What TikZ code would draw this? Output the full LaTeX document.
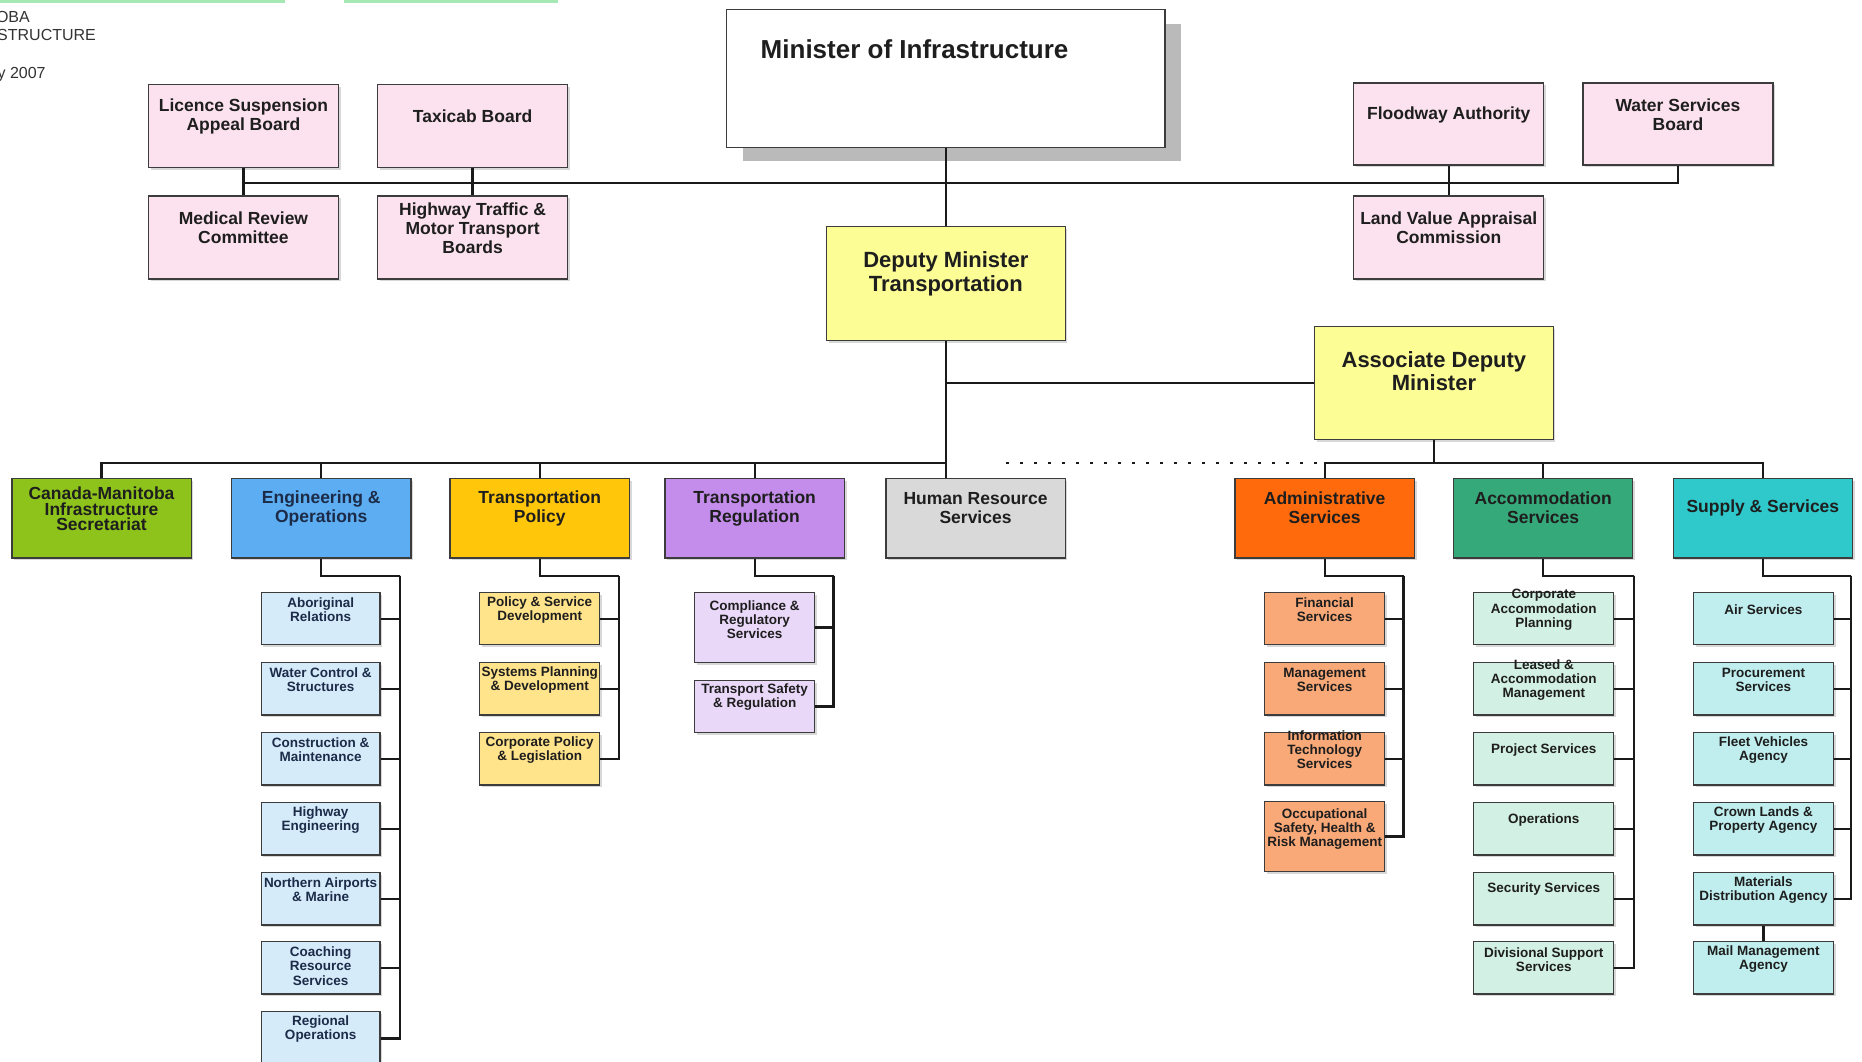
\documentclass[tikz,border=0pt]{standalone}
\usepackage{fontspec}
\setmainfont{Liberation Sans}
\usetikzlibrary{fit,calc,shadows}
\definecolor{boxline}{HTML}{3C3C3C}
\definecolor{connc}{HTML}{1A1A1A}
\definecolor{txt}{HTML}{1E1E1E}
\definecolor{navytxt}{HTML}{1B2B48}
\definecolor{pinkf}{HTML}{FCE2EE}
\definecolor{yelf}{HTML}{FDFD96}
\definecolor{cmsf}{HTML}{8EC31C}
\definecolor{engf}{HTML}{5DADF2}
\definecolor{tpf}{HTML}{FFC60A}
\definecolor{trf}{HTML}{C48DEC}
\definecolor{hrf}{HTML}{D9D9D9}
\definecolor{admf}{HTML}{FF6A0D}
\definecolor{accf}{HTML}{36A97A}
\definecolor{supf}{HTML}{2FC9CB}
\definecolor{engsub}{HTML}{D6EBFA}
\definecolor{tpsub}{HTML}{FFE48C}
\definecolor{trsub}{HTML}{EAD8F9}
\definecolor{admsub}{HTML}{F9A877}
\definecolor{accsub}{HTML}{D2F0E3}
\definecolor{supsub}{HTML}{C0EEEE}
\definecolor{topgreen}{HTML}{A6E8B4}
\definecolor{toptext}{HTML}{333333}
\newcommand{\orgbox}[9]{%
  \node[#1, fit={(#3,#4) (#5,#6)}] (#2) {};
  \node[#8] at ($(#2.north)+(0,#7)$) {#9};
}
\begin{document}
\begin{tikzpicture}[x=1.1875pt,y=-1.1875pt,
  box/.style={draw=boxline, line width=1.3pt, inner sep=0pt,
    drop shadow={shadow xshift=2.2pt, shadow yshift=-2.2pt, fill=black!25, opacity=0.6}},
  pinkbox/.style={box, fill=pinkf},
  yelbox/.style={box, fill=yelf},
  minbox/.style={draw=boxline, line width=1.3pt, inner sep=0pt, fill=white,
    drop shadow={shadow xshift=16.5pt, shadow yshift=-14pt, fill=black!27, opacity=1}},
  cmsbox/.style={box, fill=cmsf}, engbox/.style={box, fill=engf},
  tpbox/.style={box, fill=tpf}, trbox/.style={box, fill=trf},
  hrbox/.style={box, fill=hrf}, admbox/.style={box, fill=admf},
  accbox/.style={box, fill=accf}, supbox/.style={box, fill=supf},
  engs/.style={box, fill=engsub}, tps/.style={box, fill=tpsub},
  trs/.style={box, fill=trsub}, adms/.style={box, fill=admsub},
  accs/.style={box, fill=accsub}, sups/.style={box, fill=supsub},
  lbl/.style={align=center, inner sep=0pt, text=txt},
  subl/.style={lbl, font=\bfseries\fontsize{13.5}{14.2}\selectfont},
  engl/.style={subl, text=navytxt},
  midl/.style={lbl, font=\bfseries\fontsize{17.5}{19}\selectfont},
  cmsl/.style={lbl, font=\bfseries\fontsize{17.5}{15.8}\selectfont},
  bigl/.style={lbl, font=\bfseries\fontsize{22}{23.7}\selectfont},
  conn/.style={draw=connc, line width=2.3pt},
  dotline/.style={draw=connc, line width=2.6pt, dash pattern=on 2.8pt off 11.2pt},
  toplbl/.style={anchor=base west, inner sep=0pt, text=toptext, font=\fontsize{16}{18}\selectfont}
]
\useasboundingbox (0,0) rectangle (1568,894);
\clip (0,0) rectangle (1568,894);
\fill[white] (0,0) rectangle (1568,894);
\fill[topgreen] (0,0) rectangle (240,2.2);
\fill[topgreen] (290,0) rectangle (470,2.2);

\node[toplbl] (t1) at (-3.5,19.3) {OBA};
\node[toplbl] (t2) at (-2.5,34.3) {STRUCTURE};
\node[toplbl] (t3) at (-2.2,65.8) {y 2007};

% top level
\node[minbox, fit={(612,8) (981,124)}] (min) {};
\node[anchor=west, inner sep=0pt, text=txt, font=\bfseries\fontsize{26}{28}\selectfont] (mintxt) at ($(min.north west)+(29,34)$) {Minister of Infrastructure};

\orgbox{pinkbox}{lic}{125}{71}{285}{141}{28}{midl}{Licence Suspension\\Appeal Board}
\orgbox{pinkbox}{taxi}{318}{71}{478}{141}{27.5}{midl}{Taxicab Board}
\orgbox{pinkbox}{med}{125}{165}{285}{235}{27.5}{midl}{Medical Review\\Committee}
\orgbox{pinkbox}{hwy}{318}{165}{478}{235}{27.5}{midl}{Highway Traffic \&\\Motor Transport\\Boards}
\orgbox{pinkbox}{flood}{1140}{70}{1300}{139}{27.5}{midl}{Floodway Authority}
\orgbox{pinkbox}{water}{1333}{70}{1493}{139}{27.5}{midl}{Water Services\\Board}
\orgbox{pinkbox}{land}{1140}{165}{1300}{235}{27.5}{midl}{Land Value Appraisal\\Commission}

\orgbox{yelbox}{dep}{696}{191}{897}{287}{40}{bigl}{Deputy Minister\\Transportation}
\orgbox{yelbox}{adm}{1107}{275}{1308}{370}{38}{bigl}{Associate Deputy\\Minister}

% level 2
\orgbox{cmsbox}{cms}{10}{403}{161}{470}{26}{cmsl}{Canada-Manitoba\\Infrastructure\\Secretariat}
\orgbox{engbox}{eng}{195}{403}{346}{470}{25.5}{midl,text=navytxt}{Engineering \&\\Operations}
\orgbox{tpbox}{tp}{379}{403}{530}{470}{25.5}{midl}{Transportation\\Policy}
\orgbox{trbox}{tr}{560}{403}{711}{470}{25.5}{midl}{Transportation\\Regulation}
\orgbox{hrbox}{hr}{746}{403}{897}{470}{25.5}{midl}{Human Resource\\Services}
\orgbox{admbox}{ads}{1040}{403}{1191}{470}{25.5}{midl}{Administrative\\Services}
\orgbox{accbox}{acc}{1224}{403}{1375}{470}{25.5}{midl}{Accommodation\\Services}
\orgbox{supbox}{sup}{1409}{403}{1560}{470}{25.5}{midl}{Supply \& Services}

% engineering column
\orgbox{engs}{e1}{220}{499}{320}{543}{15}{engl}{Aboriginal\\Relations}
\orgbox{engs}{e2}{220}{558}{320}{602}{15}{engl}{Water Control \&\\Structures}
\orgbox{engs}{e3}{220}{617}{320}{661}{15}{engl}{Construction \&\\Maintenance}
\orgbox{engs}{e4}{220}{676}{320}{720}{15}{engl}{Highway\\Engineering}
\orgbox{engs}{e5}{220}{735}{320}{779}{15}{engl}{Northern Airports\\\& Marine}
\orgbox{engs}{e6}{220}{793}{320}{837}{21}{engl}{Coaching\\Resource\\Services}
\orgbox{engs}{e7}{220}{852}{320}{897}{15}{engl}{Regional\\Operations}

% transportation policy column
\orgbox{tps}{p1}{404}{499}{505}{543}{15}{subl}{Policy \& Service\\Development}
\orgbox{tps}{p2}{404}{558}{505}{602}{15}{subl}{Systems Planning\\\& Development}
\orgbox{tps}{p3}{404}{617}{505}{661}{15}{subl}{Corporate Policy\\\& Legislation}

% transportation regulation column
\orgbox{trs}{r1}{585}{499}{686}{558}{23.5}{subl}{Compliance \&\\Regulatory\\Services}
\orgbox{trs}{r2}{585}{573}{686}{617}{14.5}{subl}{Transport Safety\\\& Regulation}

% administrative column
\orgbox{adms}{a1}{1065}{499}{1166}{543}{15}{subl}{Financial\\Services}
\orgbox{adms}{a2}{1065}{558}{1166}{602}{15}{subl}{Management\\Services}
\orgbox{adms}{a3}{1065}{617}{1166}{661}{15}{subl}{Information\\Technology\\Services}
\orgbox{adms}{a4}{1065}{675}{1166}{734}{23.5}{subl}{Occupational\\Safety, Health \&\\Risk Management}

% accommodation column
\orgbox{accs}{c1}{1241}{499}{1359}{543}{15}{subl}{Corporate\\Accommodation\\Planning}
\orgbox{accs}{c2}{1241}{558}{1359}{602}{15}{subl}{Leased \&\\Accommodation\\Management}
\orgbox{accs}{c3}{1241}{617}{1359}{661}{15}{subl}{Project Services}
\orgbox{accs}{c4}{1241}{676}{1359}{720}{15}{subl}{Operations}
\orgbox{accs}{c5}{1241}{735}{1359}{779}{14.5}{subl}{Security Services}
\orgbox{accs}{c6}{1241}{793}{1359}{837}{15.5}{subl}{Divisional Support\\Services}

% supply column
\orgbox{sups}{s1}{1426}{499}{1544}{543}{15}{subl}{Air Services}
\orgbox{sups}{s2}{1426}{558}{1544}{602}{15}{subl}{Procurement\\Services}
\orgbox{sups}{s3}{1426}{617}{1544}{661}{15}{subl}{Fleet Vehicles\\Agency}
\orgbox{sups}{s4}{1426}{676}{1544}{720}{15}{subl}{Crown Lands \&\\Property Agency}
\orgbox{sups}{s5}{1426}{735}{1544}{779}{15}{subl}{Materials\\Distribution Agency}
\orgbox{sups}{s6}{1426}{793}{1544}{837}{15}{subl}{Mail Management\\Agency}

% ---- connectors ----
\coordinate (tb) at (796.5,154);
\draw[conn] (min.south) -- (dep.north);
\draw[conn] (lic.south |- tb) -- (water.south |- tb) -- (water.south);
\draw[conn] (lic.south) -- (med.north);
\draw[conn] (taxi.south) -- (hwy.north);
\draw[conn] (flood.south) -- (land.north);

\coordinate (lb) at (796.5,390);
\draw[conn] (dep.south) -- (dep.south |- hr.north);
\draw[conn] (cms.north) |- (lb);
\draw[conn] (eng.north) -- (eng.north |- lb);
\draw[conn] (tp.north) -- (tp.north |- lb);
\draw[conn] (tr.north) -- (tr.north |- lb);
\draw[conn] (dep.south |- adm.west) -- (adm.west);

\coordinate (rb) at (1207.5,390);
\coordinate (dotstart) at (847,390);
\draw[dotline] (dotstart) -- (rb);
\draw[conn] (adm.south) -- (rb);
\draw[conn] (ads.north) |- (sup.north |- rb) -- (sup.north);
\draw[conn] (acc.north) -- (acc.north |- rb);

\coordinate (es) at (337,485);
\draw[conn] (eng.south) |- (es);
\foreach \c in {e1,e2,e3,e4,e5,e6,e7} \draw[conn] (es) |- (\c.east);

\coordinate (ps) at (521,485);
\draw[conn] (tp.south) |- (ps);
\foreach \c in {p1,p2,p3} \draw[conn] (ps) |- (\c.east);

\coordinate (rs) at (702,485);
\draw[conn] (tr.south) |- (rs);
\foreach \c in {r1,r2} \draw[conn] (rs) |- (\c.east);

\coordinate (as) at (1182,485);
\draw[conn] (ads.south) |- (as);
\foreach \c in {a1,a2,a3,a4} \draw[conn] (as) |- (\c.east);

\coordinate (cs) at (1376,485);
\draw[conn] (acc.south) |- (cs);
\foreach \c in {c1,c2,c3,c4,c5,c6} \draw[conn] (cs) |- (\c.east);

\coordinate (ss) at (1559,485);
\draw[conn] (sup.south) |- (ss);
\foreach \c in {s1,s2,s3,s4,s5} \draw[conn] (ss) |- (\c.east);
\draw[conn] (s5.south) -- (s6.north);
\end{tikzpicture}
\end{document}
